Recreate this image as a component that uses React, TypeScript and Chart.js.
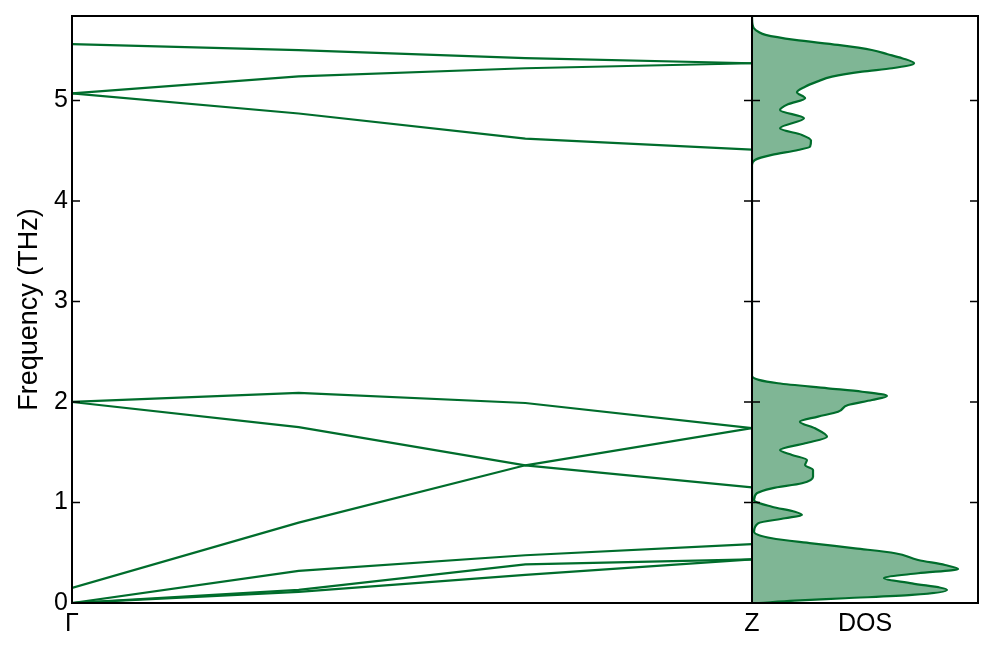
import React, { useEffect, useRef } from "react";
import { Chart, registerables } from "chart.js";

Chart.register(...registerables);

// ---- data ----
const kPath = [0, 1 / 3, 2 / 3, 1];
const kLabels = ["Γ", "Z"];

const band1 = [5.56, 5.5, 5.42, 5.37];
const band2 = [5.07, 5.24, 5.32, 5.37];
const band3 = [5.07, 4.87, 4.62, 4.51];
const band4 = [2.0, 2.09, 1.99, 1.74];
const band5 = [2.0, 1.75, 1.37, 1.15];
const band6 = [0.15, 0.8, 1.37, 1.74];
const band7 = [0, 0.32, 0.475, 0.585];
const band8 = [0, 0.13, 0.385, 0.435];
const band9 = [0, 0.11, 0.28, 0.435];
const bands = [band1, band2, band3, band4, band5, band6, band7, band8, band9];

const freqTicks = [0, 1, 2, 3, 4, 5];
const freqMax = 5.84;

const dosFreq = [
  5.84, 5.76, 5.72, 5.68, 5.652, 5.602, 5.552, 5.502, 5.46, 5.42, 5.37, 5.32,
  5.287, 5.237, 5.187, 5.137, 5.082, 5.022, 4.962, 4.905, 4.823, 4.723, 4.657,
  4.602, 4.54, 4.507, 4.458, 4.408, 4.358, 2.26, 2.22, 2.186, 2.136, 2.102,
  2.06, 2.02, 1.97, 1.903, 1.854, 1.804, 1.738, 1.655, 1.589, 1.522, 1.473,
  1.423, 1.373, 1.323, 1.257, 1.191, 1.141, 1.092, 1.025, 0.958, 0.908, 0.876,
  0.843, 0.793, 0.709, 0.644, 0.594, 0.544, 0.495, 0.428, 0.378, 0.338, 0.296,
  0.246, 0.196, 0.129, 0.08, 0.047, 0.023, 0,
];
const dosValue = [
  0, 0.002, 0.008, 0.03, 0.06, 0.19, 0.38, 0.53, 0.6, 0.664, 0.717, 0.62,
  0.487, 0.354, 0.288, 0.235, 0.199, 0.235, 0.159, 0.124, 0.23, 0.124, 0.221,
  0.261, 0.257, 0.204, 0.088, 0.013, 0, 0, 0.03, 0.115, 0.336, 0.487,
  0.597, 0.531, 0.425, 0.381, 0.292, 0.212, 0.279, 0.332, 0.235, 0.124, 0.177,
  0.243, 0.235, 0.27, 0.27, 0.221, 0.088, 0.022, 0.009, 0.088, 0.19, 0.221,
  0.146, 0.027, 0.009, 0.088, 0.265, 0.456, 0.633, 0.735, 0.854, 0.912, 0.735,
  0.584, 0.708, 0.863, 0.708, 0.412, 0.19, 0.03,
];

// ---- style ----
const GREEN = "#006d2c";
const FILL = "rgba(0,109,44,0.5)";
const FAMILY = "'Liberation Sans', Arial, sans-serif";
const W = 996;
const H = 656;
const PLOT_TOP = 16;
const PLOT_BOTTOM = 603;
const BAND_LEFT = 72;
const BAND_RIGHT = 752;
const DOS_RIGHT = 978;

const framePlugin = {
  id: "frameTicks",
  afterDraw(chart: any) {
    const { ctx, chartArea: a, scales } = chart;
    const y = scales.y;
    ctx.save();
    ctx.strokeStyle = "#000";
    ctx.lineWidth = 1.5;
    for (const v of freqTicks) {
      const py = y.getPixelForValue(v);
      ctx.beginPath();
      ctx.moveTo(a.left, py);
      ctx.lineTo(a.left + 8, py);
      ctx.moveTo(a.right, py);
      ctx.lineTo(a.right - 8, py);
      ctx.stroke();
    }
    ctx.lineWidth = 2;
    ctx.strokeRect(a.left, a.top, a.right - a.left, a.bottom - a.top);
    ctx.restore();
  },
};

const zeroPad = (s: any) => {
  s.paddingTop = 0;
  s.paddingBottom = 0;
  s.paddingLeft = 0;
  s.paddingRight = 0;
};

export default function App() {
  const bandRef = useRef<HTMLCanvasElement | null>(null);
  const dosRef = useRef<HTMLCanvasElement | null>(null);

  useEffect(() => {
    const font = { family: FAMILY, size: 25 };
    const titleFont = { family: FAMILY, size: 27 };
    const bandChart = new Chart(bandRef.current as HTMLCanvasElement, {
      type: "line",
      data: {
        datasets: bands.map((b) => ({
          data: kPath.map((k, i) => ({ x: k, y: b[i] })),
          borderColor: GREEN,
          borderWidth: 2.2,
          pointRadius: 0,
          fill: false,
          tension: 0,
        })),
      },
      options: {
        animation: false,
        responsive: false,
        events: [],
        layout: { padding: { left: 0, top: PLOT_TOP, right: W - BAND_RIGHT, bottom: 0 } },
        plugins: { legend: { display: false }, tooltip: { enabled: false } },
        scales: {
          x: {
            type: "linear",
            min: 0,
            max: 1,
            grid: { display: false, drawTicks: false },
            border: { display: false },
            afterBuildTicks: (s: any) => {
              s.ticks = [{ value: 0 }, { value: 1 }];
            },
            ticks: {
              callback: (v: any) => (v === 0 ? kLabels[0] : kLabels[1]),
              font,
              color: "#000",
              padding: 6,
              maxRotation: 0,
              autoSkip: false,
            },
            afterFit: (s: any) => {
              s.height = H - PLOT_BOTTOM;
              zeroPad(s);
            },
          },
          y: {
            type: "linear",
            min: 0,
            max: freqMax,
            grid: { display: false, drawTicks: false },
            border: { display: false },
            afterBuildTicks: (s: any) => {
              s.ticks = freqTicks.map((v) => ({ value: v }));
            },
            ticks: { font, color: "#000", padding: 4 },
            title: {
              display: true,
              text: "Frequency (THz)",
              font: titleFont,
              color: "#000",
              padding: { top: 13, bottom: 0 },
            },
            afterFit: (s: any) => {
              s.width = BAND_LEFT;
              zeroPad(s);
            },
          },
        },
      } as any,
      plugins: [framePlugin],
    });

    const dosChart = new Chart(dosRef.current as HTMLCanvasElement, {
      type: "line",
      data: {
        datasets: [
          {
            data: dosFreq.map((f, i) => ({ x: dosValue[i], y: f })),
            borderColor: GREEN,
            borderWidth: 2.2,
            backgroundColor: FILL,
            fill: "origin",
            pointRadius: 0,
            cubicInterpolationMode: "monotone",
          },
        ],
      },
      options: {
        animation: false,
        responsive: false,
        events: [],
        indexAxis: "y",
        layout: { padding: { left: BAND_RIGHT, top: PLOT_TOP, right: W - DOS_RIGHT, bottom: 0 } },
        plugins: { legend: { display: false }, tooltip: { enabled: false } },
        scales: {
          x: {
            type: "linear",
            min: 0,
            max: 1,
            grid: { display: false, drawTicks: false },
            border: { display: false },
            ticks: { display: false },
            title: {
              display: true,
              text: "DOS",
              font,
              color: "#000",
              padding: { top: 0, bottom: 17 },
            },
            afterFit: (s: any) => {
              s.height = H - PLOT_BOTTOM;
              zeroPad(s);
            },
          },
          y: {
            type: "linear",
            min: 0,
            max: freqMax,
            display: false,
          },
        },
      } as any,
      plugins: [framePlugin],
    });

    return () => {
      bandChart.destroy();
      dosChart.destroy();
    };
  }, []);

  const canvasStyle: React.CSSProperties = {
    position: "absolute",
    left: 0,
    top: 0,
    width: W,
    height: H,
  };

  return (
    <div style={{ position: "absolute", left: 0, top: 0, width: W, height: H, background: "#fff" }}>
      <canvas ref={bandRef} width={W} height={H} style={canvasStyle} />
      <canvas ref={dosRef} width={W} height={H} style={canvasStyle} />
    </div>
  );
}
